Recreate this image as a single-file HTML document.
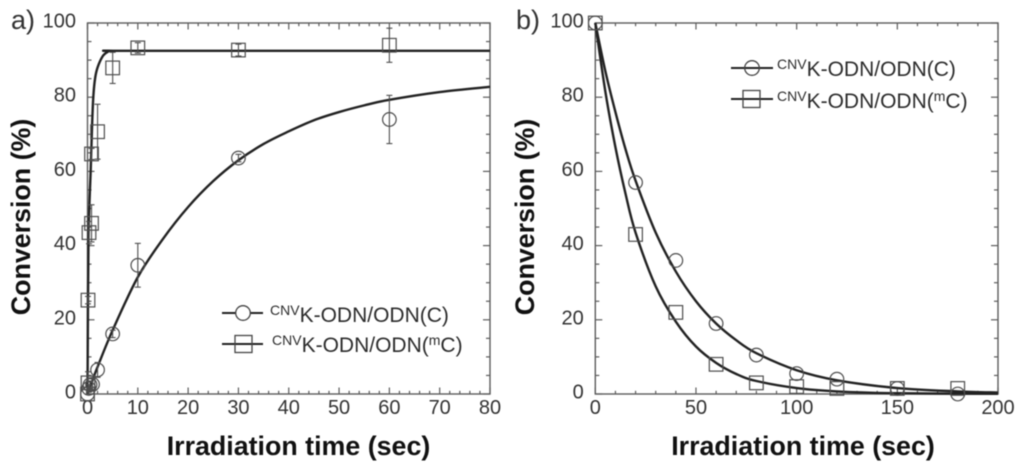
<!DOCTYPE html>
<html>
<head>
<meta charset="utf-8">
<title>Conversion vs irradiation time</title>
<style>
html,body{margin:0;padding:0;background:#fff;}
svg{display:block;filter:blur(0.45px);}
text{font-family:"Liberation Sans",sans-serif;}
.tick{font-size:20px;fill:#333;}
.title{font-size:26.8px;font-weight:bold;fill:#111;}
.panel{font-size:27px;fill:#333;}
.leg{font-size:21px;fill:#2c2c2c;}
.sup{font-size:14px;}
</style>
</head>
<body>
<svg id="figure" xmlns="http://www.w3.org/2000/svg" width="1024" height="472" viewBox="0 0 1024 472">
<rect width="1024" height="472" fill="#fff"/>
<g id="panel-a"></g>
<g id="panel-b"></g>

<text class="panel" x="11" y="29">a)</text>
<text class="panel" x="516" y="29">b)</text>

<text class="title" x="298.5" y="455" text-anchor="middle">Irradiation time (sec)</text>
<text class="title" x="803" y="455" text-anchor="middle">Irradiation time (sec)</text>
<text class="title" transform="translate(30 217) rotate(-90)" text-anchor="middle">Conversion (%)</text>
<text class="title" transform="translate(534 217) rotate(-90)" text-anchor="middle">Conversion (%)</text>

<g>
  <g>
    <line x1="222" y1="313" x2="263" y2="313" stroke="#222" stroke-width="2"/>
    <circle cx="243" cy="313" r="7.3" fill="#fff" stroke="#444" stroke-width="1.3"/>
    <text class="leg" x="270" y="322"><tspan class="sup" dy="-7">CNV</tspan><tspan dy="7">K-ODN/ODN(C)</tspan></text>
  </g>
  <g>
    <line x1="222" y1="344" x2="263" y2="344" stroke="#222" stroke-width="2"/>
    <rect x="235" y="335.5" width="17" height="17" fill="none" stroke="#444" stroke-width="1.3"/>
    <text class="leg" x="272" y="352"><tspan class="sup" dy="-7">CNV</tspan><tspan dy="7">K-ODN/ODN(</tspan><tspan class="sup" dy="-7">m</tspan><tspan dy="7">C)</tspan></text>
  </g>
</g>
<g>
  <g>
    <line x1="731" y1="68" x2="773" y2="68" stroke="#222" stroke-width="2"/>
    <circle cx="752" cy="68" r="7.3" fill="none" stroke="#444" stroke-width="1.3"/>
    <text class="leg" x="777" y="76"><tspan class="sup" dy="-7">CNV</tspan><tspan dy="7">K-ODN/ODN(C)</tspan></text>
  </g>
  <g>
    <line x1="731" y1="99" x2="773" y2="99" stroke="#222" stroke-width="2"/>
    <rect x="743" y="90.5" width="17" height="17" fill="none" stroke="#444" stroke-width="1.3"/>
    <text class="leg" x="777" y="108"><tspan class="sup" dy="-7">CNV</tspan><tspan dy="7">K-ODN/ODN(</tspan><tspan class="sup" dy="-7">m</tspan><tspan dy="7">C)</tspan></text>
  </g>
</g>
</svg>

<script>
// Panel a data
const aXTicks = [0,10,20,30,40,50,60,70,80];
const aYTicks = [0,20,40,60,80,100];
const aCircleTimes = [0,0.25,0.5,1,2,5,10,30,60];
const aCircleValues = [0,1.5,2.5,2.6,6.5,16.2,34.7,63.6,74];
const aCircleErrors = [0,1,1,1.5,2,1,5.9,1,6.5];
const aSquareTimes = [0,0.1,0.1,0.3,0.8,0.8,2,5,10,30,60];
const aSquareValues = [0,3,25.3,43.5,46,64.7,70.7,87.9,93.3,92.7,94];
const aSquareErrors = [0,3,1,3,5,1.5,7.4,4.2,1.4,1.6,4.6];
const aCircleFitTimes = [0,1,2,5,10,15,20,25,30,35,40,45,50,55,60,70,80];
const aCircleFitValues = [0,3.7,7.3,17.2,31.5,41.8,50.4,57.4,63,67.4,70.8,73.8,76,77.8,79.3,81.4,82.8];
const aSquareFitTimes = [0,0.1,0.2,0.4,0.63,0.9,1.15,1.5,2,3,4,5,10,80];
const aSquareFitValues = [0,25,42,52,60,72,80,85,88,91,92.2,92.5,92.5,92.5];

// Panel b data
const bXTicks = [0,50,100,150,200];
const bYTicks = [0,20,40,60,80,100];
const bCircleTimes = [0,20,40,60,80,100,120,150,180];
const bCircleValues = [100,57,36,19,10.5,5.5,4,1.5,0];
const bSquareTimes = [0,20,40,60,80,100,120,150,180];
const bSquareValues = [100,43,22,8,3,2,1.5,1.5,1.5];
const bCircleFitTimes = [0,5,10,15,20,30,40,50,60,70,80,100,120,150,180,200];
const bCircleFitValues = [100,87,76,66,57.5,43.5,33,25,19,14.5,11,6.4,3.7,1.6,0.7,0.4];
const bSquareFitTimes = [0,5,10,15,20,30,40,50,60,70,80,100,120,150,200];
const bSquareFitValues = [100,81.5,66.5,54,43.5,29,19.5,12.8,8.4,5.4,3.5,1.6,0.7,0.2,0.05];

const NS = 'http://www.w3.org/2000/svg';
const AXIS_COLOR = '#5c5c5c';
const MARK_COLOR = '#4d4d4d';
const FIT_COLOR = '#222';

function mk(parent, tag, attrs, name) {
  const el = document.createElementNS(NS, tag);
  for (const k in attrs) el.setAttribute(k, attrs[k]);
  
  
  parent.appendChild(el);
  return el;
}

// Smooth path through the screen points (Catmull-Rom converted to cubic Beziers)
function smoothPath(pts) {
  let d = 'M' + pts[0][0].toFixed(2) + ' ' + pts[0][1].toFixed(2);
  for (let i = 0; i < pts.length - 1; i++) {
    const p0 = pts[Math.max(i - 1, 0)], p1 = pts[i], p2 = pts[i + 1], p3 = pts[Math.min(i + 2, pts.length - 1)];
    const c1x = p1[0] + (p2[0] - p0[0]) / 6, c1y = p1[1] + (p2[1] - p0[1]) / 6;
    const c2x = p2[0] - (p3[0] - p1[0]) / 6, c2y = p2[1] - (p3[1] - p1[1]) / 6;
    d += ' C' + [c1x, c1y, c2x, c2y, p2[0], p2[1]].map(n => n.toFixed(2)).join(' ');
  }
  return d;
}

function drawPanel(cfg) {
  const g = document.getElementById(cfg.id);
  const x = v => cfg.left + (v / cfg.xMax) * (cfg.right - cfg.left);
  const y = v => cfg.bottom - (v / 100) * (cfg.bottom - cfg.top);

  mk(g, 'rect', {x: cfg.left, y: cfg.top, width: cfg.right - cfg.left, height: cfg.bottom - cfg.top,
    fill: 'none', stroke: AXIS_COLOR, 'stroke-width': 1.4}, 'plot-frame');

  // x ticks
  const xStep = cfg.xTicks[1] - cfg.xTicks[0];
  const xMinor = xStep / 5;
  for (let i = 0; i <= Math.round(cfg.xMax / xMinor); i++) {
    const v = i * xMinor;
    const len = i % 5 === 0 ? 6.5 : 3.2;
    mk(g, 'line', {x1: x(v), x2: x(v), y1: cfg.bottom, y2: cfg.bottom - len, stroke: AXIS_COLOR, 'stroke-width': 1.2}, 'x-tick-bottom');
    mk(g, 'line', {x1: x(v), x2: x(v), y1: cfg.top, y2: cfg.top + len, stroke: AXIS_COLOR, 'stroke-width': 1.2}, 'x-tick-top');
  }
  // y ticks
  for (let i = 0; i <= 20; i++) {
    const v = i * 5;
    const len = i % 4 === 0 ? 7 : 4;
    mk(g, 'line', {x1: cfg.left, x2: cfg.left + len, y1: y(v), y2: y(v), stroke: AXIS_COLOR, 'stroke-width': 1.2}, 'y-tick-left');
    mk(g, 'line', {x1: cfg.right, x2: cfg.right - len, y1: y(v), y2: y(v), stroke: AXIS_COLOR, 'stroke-width': 1.2}, 'y-tick-right');
  }
  cfg.xTicks.forEach(v => {
    const t = mk(g, 'text', {x: x(v), y: 414, 'text-anchor': 'middle', class: 'tick'}, 'x-tick-label');
    t.textContent = v;
  });
  cfg.yTicks.forEach(v => {
    const t = mk(g, 'text', {x: cfg.left - 11.5, y: y(v) + 4.5, 'text-anchor': 'end', class: 'tick'}, 'y-tick-label');
    t.textContent = v;
  });

  // fit curves
  cfg.fits.forEach(f => {
    const pts = f.t.map((t, i) => [x(t), y(f.v[i])]);
    mk(g, 'path', {d: smoothPath(pts), fill: 'none', stroke: FIT_COLOR, 'stroke-width': 2.4, 'stroke-linejoin': 'round'}, f.name);
  });

  // points with error bars
  cfg.series.forEach(s => {
    s.t.forEach((t, i) => {
      const px = x(t), py = y(s.v[i]);
      const err = s.e ? s.e[i] : 0;
      if (err > 0) {
        const top = y(s.v[i] + err), bot = y(s.v[i] - err);
        mk(g, 'line', {x1: px, x2: px, y1: top, y2: bot, stroke: MARK_COLOR, 'stroke-width': 1.1}, s.name + '-error-bar');
        mk(g, 'line', {x1: px - 3, x2: px + 3, y1: top, y2: top, stroke: MARK_COLOR, 'stroke-width': 1.1}, s.name + '-error-cap');
        mk(g, 'line', {x1: px - 3, x2: px + 3, y1: bot, y2: bot, stroke: MARK_COLOR, 'stroke-width': 1.1}, s.name + '-error-cap');
      }
      if (s.shape === 'circle') {
        mk(g, 'circle', {cx: px, cy: py, r: 6.8, fill: 'none', stroke: MARK_COLOR, 'stroke-width': 1.2}, s.name + '-point');
      } else {
        mk(g, 'rect', {x: px - 6.8, y: py - 6.8, width: 13.6, height: 13.6, fill: 'none', stroke: MARK_COLOR, 'stroke-width': 1.2}, s.name + '-point');
      }
    });
  });
}

drawPanel({
  id: 'panel-a', left: 87.5, right: 490, top: 23, bottom: 394, xMax: 80,
  xTicks: aXTicks, yTicks: aYTicks,
  fits: [
    {t: aCircleFitTimes, v: aCircleFitValues, name: 'fit-curve-c'},
    {t: aSquareFitTimes, v: aSquareFitValues, name: 'fit-curve-mc'}
  ],
  series: [
    {t: aCircleTimes, v: aCircleValues, e: aCircleErrors, shape: 'circle', name: 'series-c'},
    {t: aSquareTimes, v: aSquareValues, e: aSquareErrors, shape: 'square', name: 'series-mc'}
  ]
});

drawPanel({
  id: 'panel-b', left: 595.3, right: 998, top: 23, bottom: 394, xMax: 200,
  xTicks: bXTicks, yTicks: bYTicks,
  fits: [
    {t: bCircleFitTimes, v: bCircleFitValues, name: 'fit-curve-c'},
    {t: bSquareFitTimes, v: bSquareFitValues, name: 'fit-curve-mc'}
  ],
  series: [
    {t: bCircleTimes, v: bCircleValues, shape: 'circle', name: 'series-c'},
    {t: bSquareTimes, v: bSquareValues, shape: 'square', name: 'series-mc'}
  ]
});
</script>
</body>
</html>
